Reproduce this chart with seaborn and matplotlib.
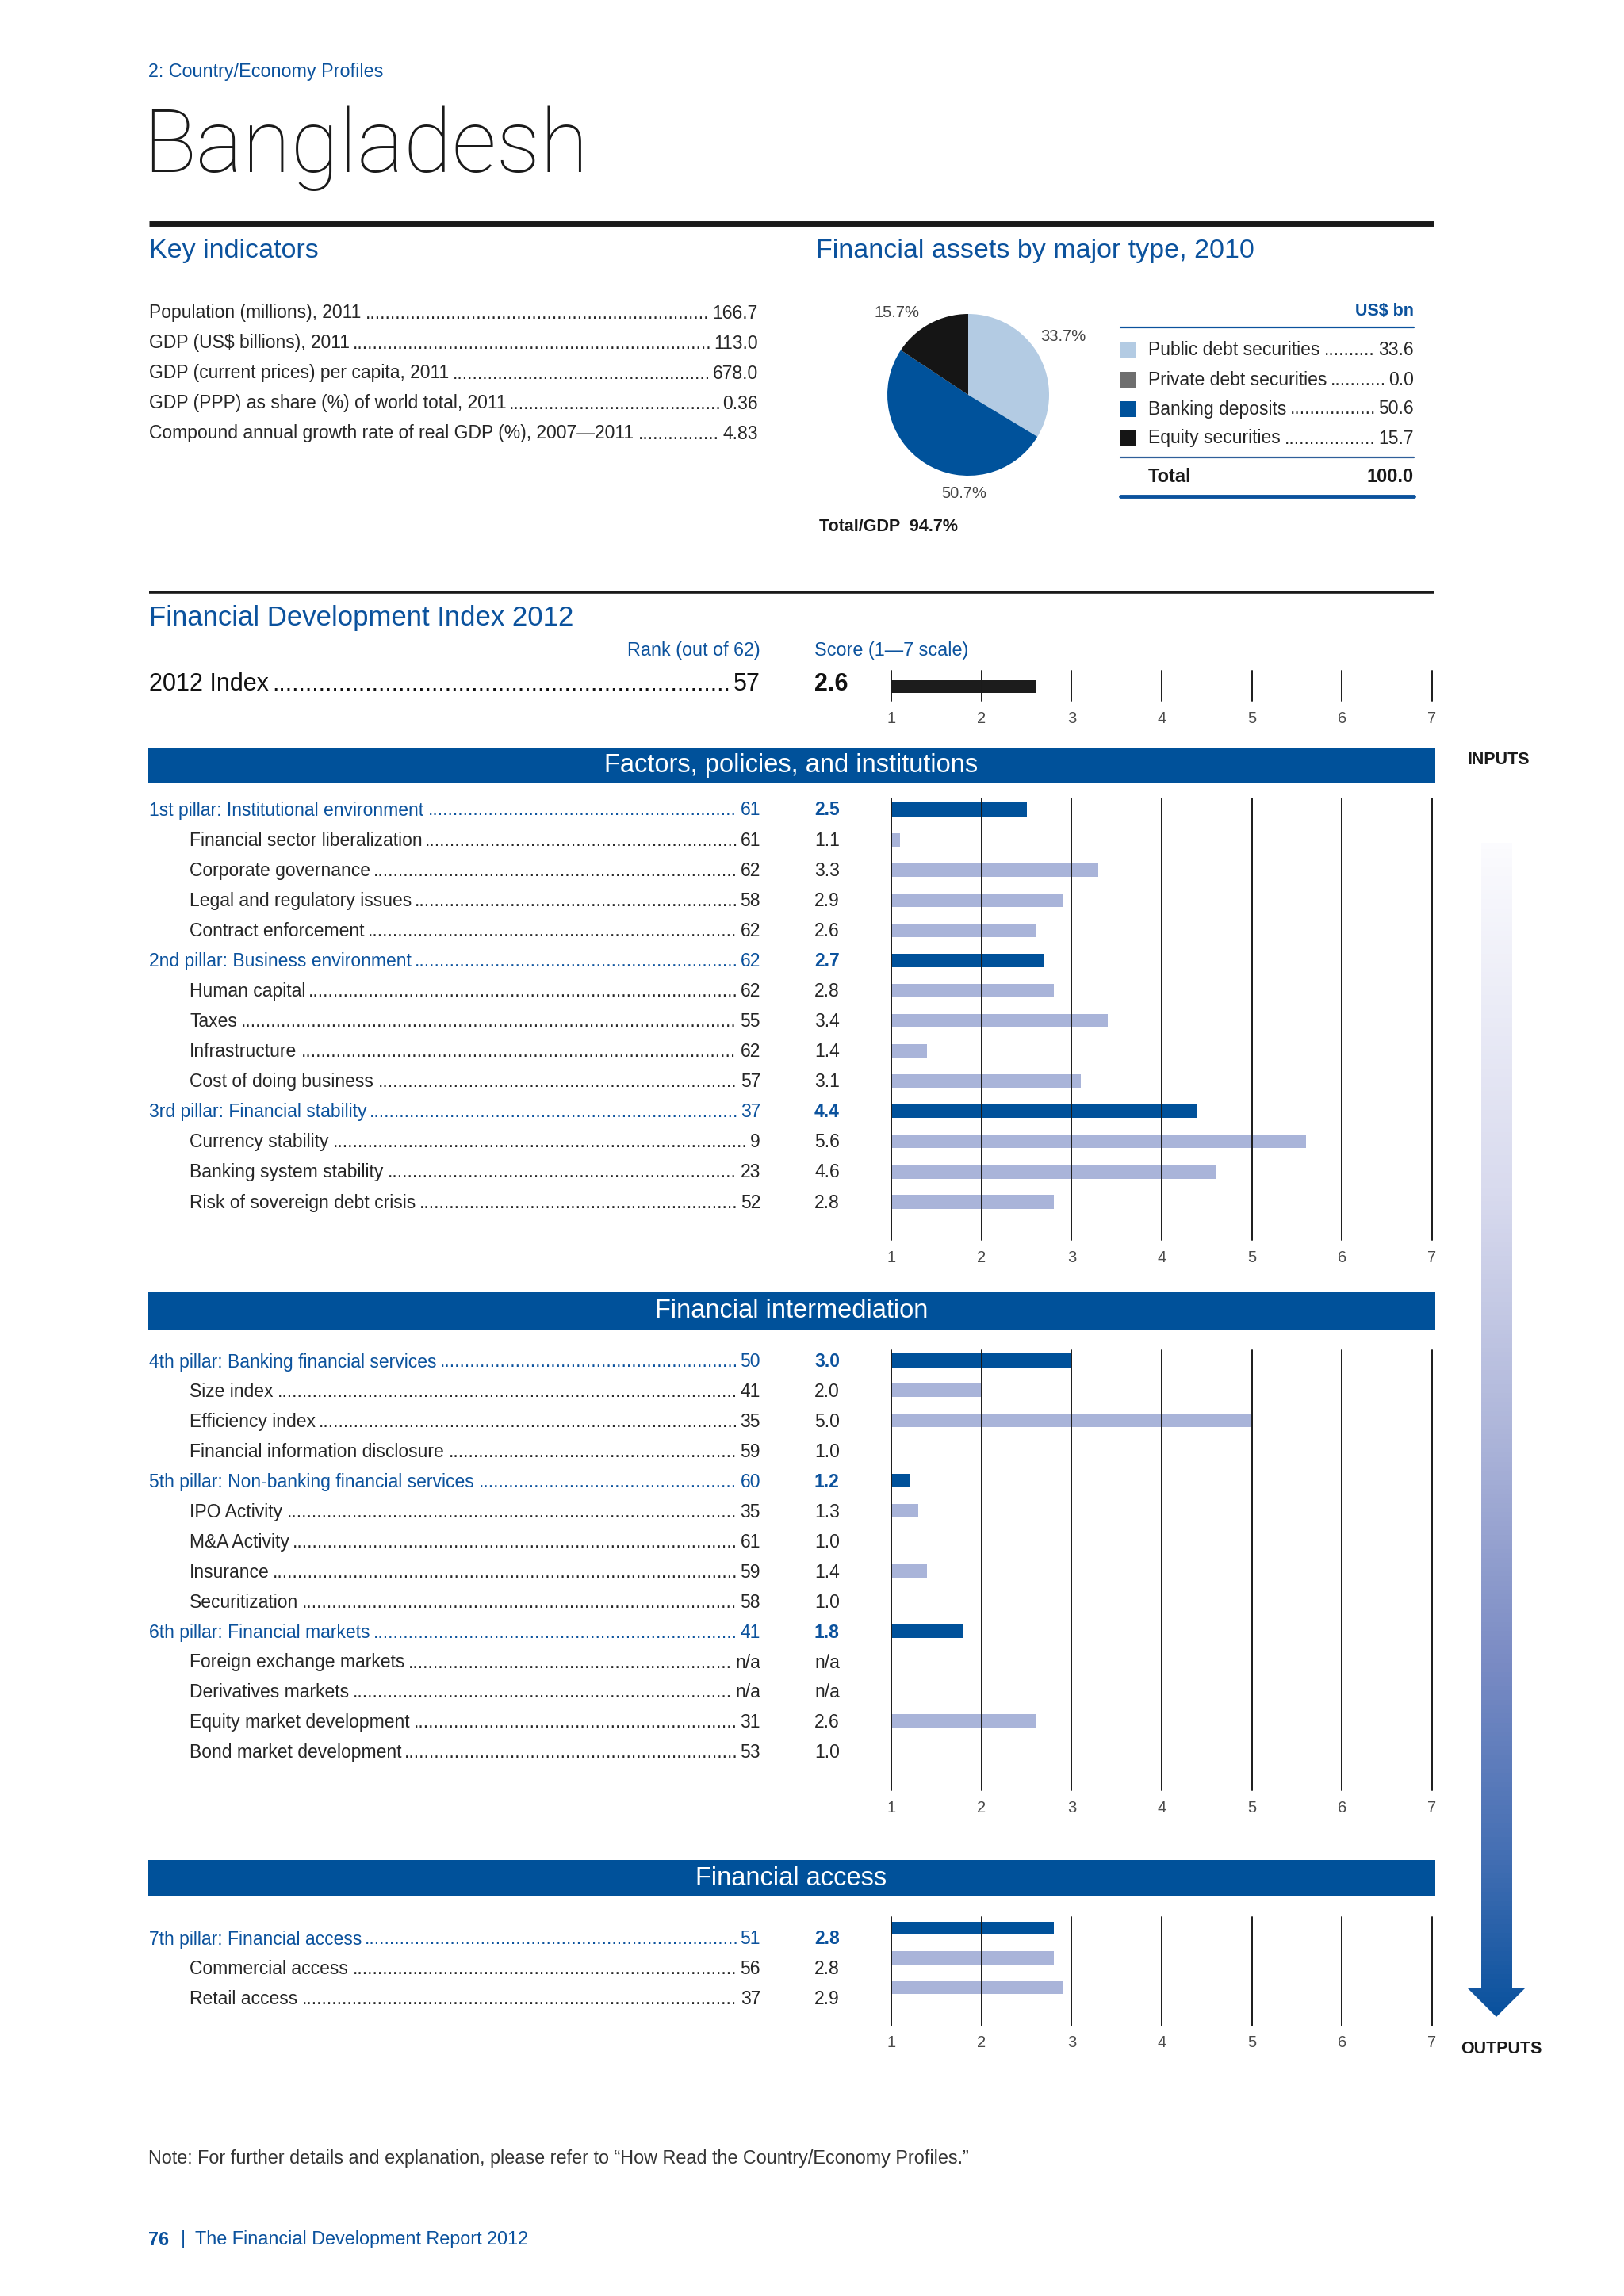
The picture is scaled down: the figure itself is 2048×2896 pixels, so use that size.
import numpy as np
import pandas as pd
import matplotlib
matplotlib.use("Agg")
import matplotlib.pyplot as plt
import seaborn as sns
from matplotlib.patches import Rectangle, Polygon
from matplotlib.colors import LinearSegmentedColormap

sns.set_theme(style="white")
plt.rcParams['font.family'] = ['Liberation Sans', 'DejaVu Sans']

W, H = 2048, 2896
BLUE = '#0B529D'
DARK = '#262626'
BAR_DARK = '#00519A'
BAR_LIGHT = '#A9B4D9'
BODY = 16.5
HEAD = 24.5

# Key indicators
key_labels = ["Population (millions), 2011",
              "GDP (US$ billions), 2011",
              "GDP (current prices) per capita, 2011",
              "GDP (PPP) as share (%) of world total, 2011",
              "Compound annual growth rate of real GDP (%), 2007\u20142011"]
key_values = ["166.7", "113.0", "678.0", "0.36", "4.83"]

# Financial assets, 2010
asset_labels = ["Public debt securities", "Private debt securities",
                "Banking deposits", "Equity securities"]
asset_values = [33.6, 0.0, 50.6, 15.7]
asset_shares = [33.7, 0.0, 50.7, 15.7]
asset_colors = ['#B3CBE3', '#6E6E6E', '#00529B', '#151515']
asset_total = 100.0
total_gdp = 94.7

# Index
index_rank = 57
index_score = 2.6
scale_ticks = [1, 2, 3, 4, 5, 6, 7]

# Factors, policies, and institutions
s1_labels = ["1st pillar: Institutional environment", "Financial sector liberalization",
             "Corporate governance", "Legal and regulatory issues", "Contract enforcement",
             "2nd pillar: Business environment", "Human capital", "Taxes", "Infrastructure",
             "Cost of doing business", "3rd pillar: Financial stability", "Currency stability",
             "Banking system stability", "Risk of sovereign debt crisis"]
s1_ranks = ["61", "61", "62", "58", "62", "62", "62", "55", "62", "57", "37", "9", "23", "52"]
s1_scores = [2.5, 1.1, 3.3, 2.9, 2.6, 2.7, 2.8, 3.4, 1.4, 3.1, 4.4, 5.6, 4.6, 2.8]
s1_pillar = [1, 0, 0, 0, 0, 1, 0, 0, 0, 0, 1, 0, 0, 0]

# Financial intermediation
s2_labels = ["4th pillar: Banking financial services", "Size index", "Efficiency index",
             "Financial information disclosure", "5th pillar: Non-banking financial services",
             "IPO Activity", "M&A Activity", "Insurance", "Securitization",
             "6th pillar: Financial markets", "Foreign exchange markets", "Derivatives markets",
             "Equity market development", "Bond market development"]
s2_ranks = ["50", "41", "35", "59", "60", "35", "61", "59", "58", "41", "n/a", "n/a", "31", "53"]
s2_scores = [3.0, 2.0, 5.0, 1.0, 1.2, 1.3, 1.0, 1.4, 1.0, 1.8, np.nan, np.nan, 2.6, 1.0]
s2_pillar = [1, 0, 0, 0, 1, 0, 0, 0, 0, 1, 0, 0, 0, 0]

# Financial access
s3_labels = ["7th pillar: Financial access", "Commercial access", "Retail access"]
s3_ranks = ["51", "56", "37"]
s3_scores = [2.8, 2.8, 2.9]
s3_pillar = [1, 0, 0]

fig = plt.figure(figsize=(W / 100, H / 100), dpi=100)
page = fig.add_axes([0, 0, 1, 1])
page.set_xlim(0, W)
page.set_ylim(H, 0)
page.axis('off')

pending = []


def leader_row(x0, x1, y, label, value, color=DARK, size=BODY, weight='normal'):
    t1 = page.text(x0, y, label, ha='left', va='center', color=color, fontsize=size, fontweight=weight)
    t2 = page.text(x1, y, value, ha='right', va='center', color=color, fontsize=size, fontweight=weight)
    pending.append((t1, t2, y, color, size, weight))


def fill_dots():
    r = fig.canvas.get_renderer()
    for t1, t2, y, color, size, weight in pending:
        a = t1.get_window_extent(r).x1 + 3
        b = t2.get_window_extent(r).x0 - 2
        probe = page.text(0, 0, '.' * 50, fontsize=size, fontweight=weight)
        dw = probe.get_window_extent(r).width / 50
        probe.remove()
        n = max(int((b - a) / dw), 0)
        page.text((a + b) / 2, y, '.' * n, ha='center', va='center', color=color,
                  fontsize=size, fontweight=weight)


def scale_axes(top, bottom):
    ax = fig.add_axes([1124 / W, 1 - bottom / H, (1806 - 1124) / W, (bottom - top) / H])
    ax.patch.set_alpha(0)
    return ax


def finish_axes(ax, top, bottom, first_bar, dy):
    ax.set_xlim(1, 7)
    ax.set_ylim((bottom - first_bar) / dy, (top - first_bar) / dy)
    ax.set_xticks(scale_ticks)
    ax.set_xticklabels([str(t) for t in scale_ticks])
    ax.set_yticks([])
    ax.set_xlabel('')
    ax.set_ylabel('')
    ax.tick_params(axis='x', length=0, pad=9, labelsize=14.5, labelcolor='#4a4a4a')
    ax.grid(axis='x', color='#1a1a1a', lw=1.4)
    ax.grid(axis='y', visible=False)
    ax.set_axisbelow(False)
    for gl in ax.get_xgridlines():
        gl.set_clip_on(False)
    sns.despine(ax=ax, left=True, bottom=True)


def section(labels, ranks, scores, pillar, first_text, dy, top, bottom, bar_off):
    first_bar = first_text + bar_off
    ax = scale_axes(top, bottom)
    df = pd.DataFrame({'label': labels, 'score': scores,
                       'kind': ['pillar' if p else 'sub' for p in pillar]}).dropna()
    sns.barplot(data=df, x='score', y='label', hue='kind', order=labels, orient='h',
                palette={'pillar': BAR_DARK, 'sub': BAR_LIGHT}, width=0.45, dodge=False,
                errorbar=None, legend=False, saturation=1, linewidth=0, ax=ax)
    finish_axes(ax, top, bottom, first_bar, dy)
    for i, (lab, rk, sc, p) in enumerate(zip(labels, ranks, scores, pillar)):
        y = first_text + i * dy
        col = BLUE if p else DARK
        x0 = 188 if p else 239
        leader_row(x0, 959, y, lab, rk, color=col)
        page.text(1027, y, 'n/a' if np.isnan(sc) else f"{sc:.1f}", ha='left', va='center',
                  color=col, fontsize=BODY, fontweight='bold' if p else 'normal')


# header
page.text(187, 90, "2: Country/Economy Profiles", color=BLUE, fontsize=16.8, va='center')
page.text(180, 187, "Bangladesh", color='#1a1a1a', fontsize=80, va='center',
          family=['Roboto', 'Liberation Sans'], fontweight='light')
page.plot([188, 1808], [282, 282], color='#1a1a1a', lw=5, solid_capstyle='butt')

# key indicators
page.text(188, 316, "Key indicators", color=BLUE, fontsize=HEAD, va='center')
for i, (lab, val) in enumerate(zip(key_labels, key_values)):
    leader_row(188, 956, 395 + i * 38, lab, val)

# financial assets
page.text(1029, 316, "Financial assets by major type, 2010", color=BLUE, fontsize=HEAD, va='center')
pax = fig.add_axes([(1221 - 102) / W, 1 - (498 + 102) / H, 204 / W, 204 / H])
pax.pie(asset_shares, colors=asset_colors, startangle=90, counterclock=False,
        wedgeprops=dict(linewidth=0))
pax.set_xlim(-1, 1)
pax.set_ylim(-1, 1)
for (px, py), sh in zip([(1341, 425), (1216, 623), (1131, 395)],
                        [asset_shares[0], asset_shares[2], asset_shares[3]]):
    page.text(px, py, f"{sh:.1f}%", ha='center', va='center', color='#444444', fontsize=14.5)
page.text(1033, 665, f"Total/GDP  {total_gdp:.1f}%", color='#1a1a1a', fontsize=15.5,
          fontweight='bold', va='center')

page.text(1783, 393, "US$ bn", ha='right', va='center', color=BLUE, fontsize=15.5, fontweight='bold')
page.plot([1413, 1783], [413, 413], color=BLUE, lw=1.6)
for i, (lab, val, col) in enumerate(zip(asset_labels, asset_values, asset_colors)):
    y = 442 + i * 37
    page.add_patch(Rectangle((1413, y - 10), 20, 20, color=col, lw=0))
    leader_row(1448, 1783, y, lab, f"{val:.1f}")
page.plot([1413, 1783], [577, 577], color='#2f5f9a', lw=1.6)
page.text(1448, 602, "Total", va='center', color='#1a1a1a', fontsize=17, fontweight='bold')
page.text(1783, 602, f"{asset_total:.1f}", ha='right', va='center', color='#1a1a1a',
          fontsize=17, fontweight='bold')
page.plot([1413, 1783], [626, 626], color=BLUE, lw=3.5)

# index
page.plot([188, 1808], [747, 747], color='#1a1a1a', lw=2.6, solid_capstyle='butt')
page.text(188, 780, "Financial Development Index 2012", color=BLUE, fontsize=HEAD + 0.5, va='center')
page.text(959, 820, "Rank (out of 62)", ha='right', va='center', color=BLUE, fontsize=16.8)
page.text(1027, 820, "Score (1\u20147 scale)", ha='left', va='center', color=BLUE, fontsize=16.8)
leader_row(188, 959, 863, "2012 Index", str(index_rank), color='#111111', size=22)
page.text(1027, 863, f"{index_score:.1f}", va='center', color='#111111', fontsize=22,
          fontweight='bold')
iax = scale_axes(846, 884)
sns.barplot(x=[index_score], y=["2012 Index"], orient='h', color='#1c1c1c', saturation=1,
            width=0.42, errorbar=None, linewidth=0, ax=iax)
finish_axes(iax, 846, 884, 866, 40)

# bands
for (y0, y1), name in zip([(943, 988), (1630, 1677), (2346, 2392)],
                          ["Factors, policies, and institutions", "Financial intermediation",
                           "Financial access"]):
    page.add_patch(Rectangle((187, y0), 1810 - 187, y1 - y0, color='#00519A', lw=0))
    page.text(998, (y0 + y1) / 2, name, ha='center', va='center', color='white', fontsize=23.5)

section(s1_labels, s1_ranks, s1_scores, s1_pillar, 1022, 38.08, 1007, 1564, -1)
section(s2_labels, s2_ranks, s2_scores, s2_pillar, 1718, 37.9, 1703, 2258, -2)
section(s3_labels, s3_ranks, s3_scores, s3_pillar, 2446, 37.5, 2418, 2555, -14)

# inputs -> outputs arrow
page.text(1890, 958, "INPUTS", ha='center', va='center', color='#1a1a1a', fontsize=15.5,
          fontweight='bold')
page.text(1893, 2585, "OUTPUTS", ha='center', va='center', color='#1a1a1a', fontsize=15.5,
          fontweight='bold')
cmap = LinearSegmentedColormap.from_list('arrow', [(0, '#FBFBFE'), (0.3, '#D8DAEE'),
                                                   (0.5, '#AEB6DA'), (0.7, '#7A8BC4'),
                                                   (0.86, '#4670B4'), (1, '#0A529E')])
grad = np.linspace(0, 1, 400).reshape(-1, 1)
im = page.imshow(grad, extent=[1850, 1924, 2544, 1063], aspect='auto', cmap=cmap,
                 interpolation='bilinear')
arrow = Polygon([(1868, 1063), (1907, 1063), (1907, 2507), (1924, 2507), (1887, 2544),
                 (1850, 2507), (1868, 2507)], closed=True, facecolor='none', edgecolor='none',
                transform=page.transData)
page.add_patch(arrow)
im.set_clip_path(arrow)
page.set_xlim(0, W)
page.set_ylim(H, 0)

# footer
page.text(187, 2722, "Note: For further details and explanation, please refer to \u201cHow Read the "
          "Country/Economy Profiles.\u201d", va='center', color='#333333', fontsize=16.8)
page.text(187, 2825, "76", va='center', color=BLUE, fontsize=16.8, fontweight='bold')
page.text(228, 2825, "|", va='center', color=BLUE, fontsize=16.8)
page.text(246, 2825, "The Financial Development Report 2012", va='center', color=BLUE, fontsize=16.8)

fill_dots()
fig.savefig("out.png", dpi=100, facecolor='white')
